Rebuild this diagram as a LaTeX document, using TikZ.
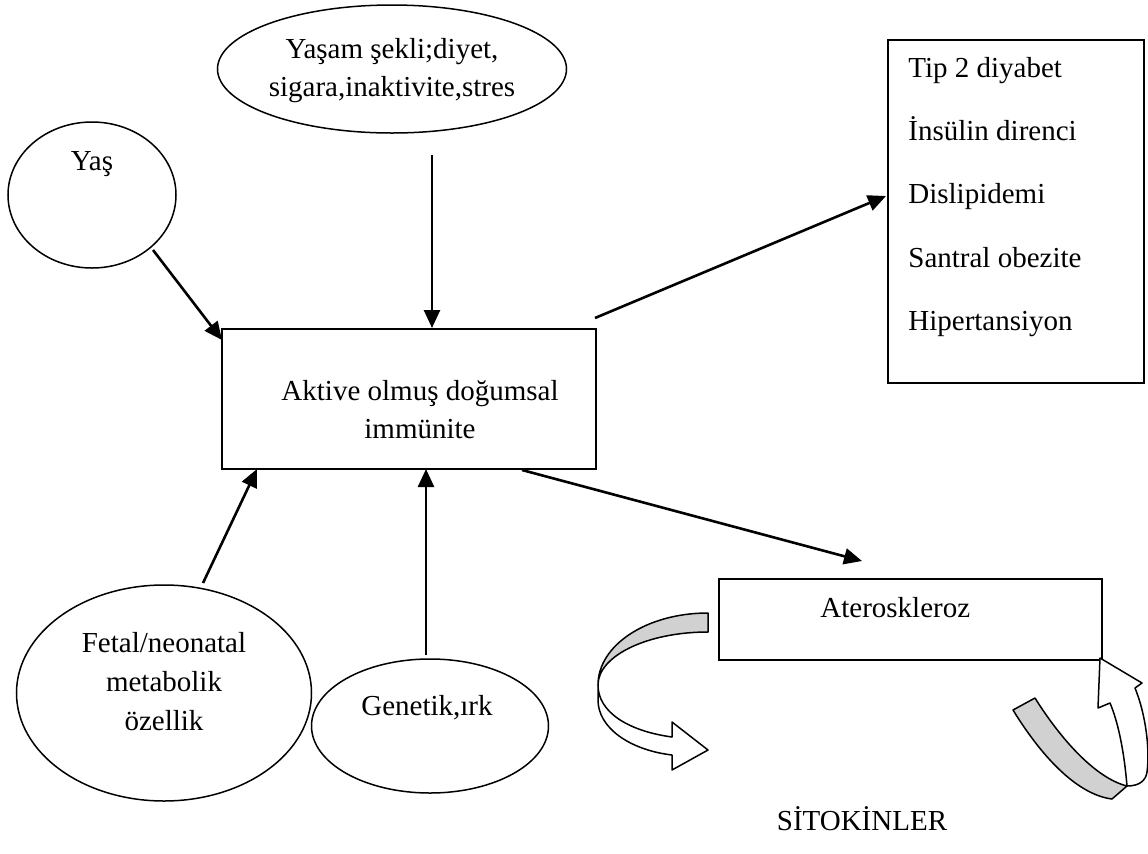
\documentclass[tikz,border=0pt]{standalone}
\usepackage{fontspec}
\setmainfont{Liberation Serif}
\usetikzlibrary{shapes.geometric,arrows.meta,calc}
\begin{document}
\begin{tikzpicture}[x=0.5pt,y=-0.5pt,
  ell/.style={draw,ellipse,line width=0.75pt,inner sep=0pt},
  box/.style={draw,rectangle,line width=0.75pt,inner sep=0pt,anchor=north west},
  txt/.style={inner sep=0pt,font=\fontsize{14.5pt}{19.5pt}\selectfont},
  arr/.style={line width=1.3pt,-{Triangle[length=9pt,width=8pt]}},
  ribbon/.style={draw,line width=0.75pt,line join=round}]
\useasboundingbox (0,0) rectangle (1148,853);

% shapes
\node[ell,minimum width=174.5pt,minimum height=64pt] (life) at (392,69) {};
\node[ell,minimum width=84pt,minimum height=73pt] (yas) at (92,195) {};
\node[box,minimum width=187pt,minimum height=70pt] (main) at (221,328) {};
\node[box,minimum width=128pt,minimum height=171.5pt] (out) at (887,39) {};
\node[box,minimum width=191.5pt,minimum height=40.5pt] (ath) at (718,578) {};
\node[ell,minimum width=147.5pt,minimum height=108pt] (fetal) at (164,693) {};
\node[ell,minimum width=118.5pt,minimum height=67pt] (gen) at (430,726) {};

% texts
\node[txt,anchor=base] (life1) at (392,58) {Yaşam şekli;diyet,};
\node[txt,anchor=base] (life2) at (392,96) {sigara,inaktivite,stres};
\node[txt,anchor=base] (yast) at (92,170) {Yaş};
\node[txt,anchor=base] (main1) at (420,400) {Aktive olmuş doğumsal};
\node[txt,anchor=base] (main2) at (420,438) {immünite};
\node[txt,anchor=base west] (o1) at (908,77) {Tip 2 diyabet};
\node[txt,anchor=base west] (o2) at (908,140) {İnsülin direnci};
\node[txt,anchor=base west] (o3) at (908,203) {Dislipidemi};
\node[txt,anchor=base west] (o4) at (908,267) {Santral obezite};
\node[txt,anchor=base west] (o5) at (908,330) {Hipertansiyon};
\node[txt,anchor=base west] (atht) at (820,617) {Ateroskleroz};
\node[txt,anchor=base] (f1) at (164,652) {Fetal/neonatal};
\node[txt,anchor=base] (f2) at (164,691) {metabolik};
\node[txt,anchor=base] (f3) at (164,730) {özellik};
\node[txt,anchor=base] (gent) at (427,715) {Genetik,ırk};
\node[txt,anchor=base] (sito) at (862,830) {SİTOKİNLER};

% connector end points
\coordinate (lifeS) at (432,155);
\coordinate (mainT) at (432,328);
\coordinate (yasE) at (153,250);
\coordinate (mainTL) at (222,340);
\coordinate (mainTR) at (595,318);
\coordinate (outL) at (886,196);
\coordinate (mainB1) at (522,470);
\coordinate (athT) at (862,561);
\coordinate (fetalT) at (203,583);
\coordinate (mainB2) at (257,469);
\coordinate (genT) at (426,655);
\coordinate (mainB3) at (426,469);

\draw[arr] (lifeS) -- (mainT);
\draw[arr] (yasE) -- (mainTL);
\draw[arr] (mainTR) -- (outL);
\draw[arr] (mainB1) -- (athT);
\draw[arr] (fetalT) -- (mainB2);
\draw[arr] (genT) -- (mainB3);

% curved ribbon arrows
\draw[ribbon,fill=black!18] (708,613) .. controls (647,613) and (598,645) .. (598,685)
  .. controls (598,656) and (647,632) .. (708,632) -- cycle;
\draw[ribbon,fill=white] (598,685) -- (598,700) .. controls (598,728) and (630,750) .. (672,755)
  -- (672,770) -- (708,750) -- (672,722) -- (672,737)
  .. controls (628,731) and (598,712) .. (598,685) -- cycle;

\draw[ribbon,fill=black!18] (1013,710) .. controls (1045,762) and (1080,795) .. (1112,799)
  -- (1127,786) .. controls (1095,778) and (1060,738) .. (1035,698) -- cycle;
\draw[ribbon,fill=white] (1127,786) .. controls (1124,750) and (1118,722) .. (1110,703)
  -- (1098,708) -- (1100,658) -- (1142,683) -- (1135,688)
  .. controls (1146,715) and (1150,750) .. (1147,772)
  .. controls (1146,780) and (1140,786) .. (1127,786) -- cycle;
\end{tikzpicture}
\end{document}
